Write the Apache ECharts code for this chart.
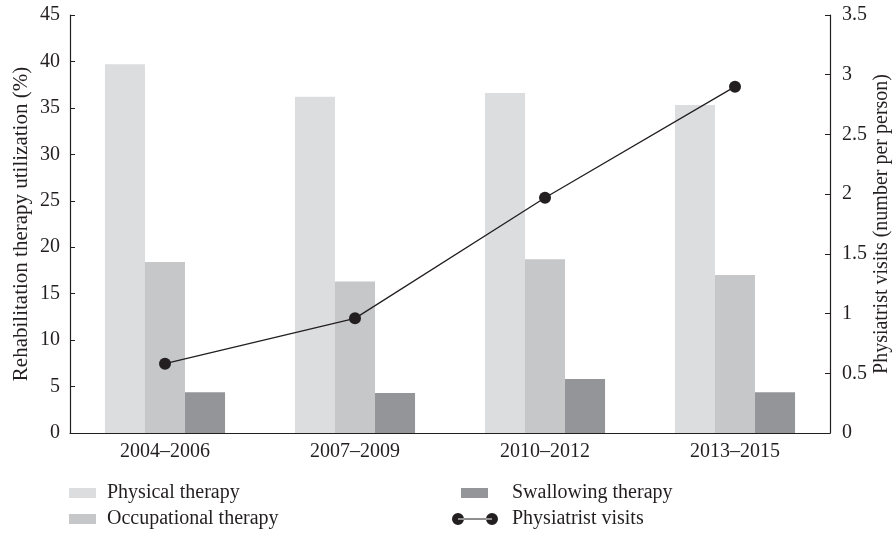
<!DOCTYPE html>
<html>
<head>
<meta charset="utf-8">
<script src="https://cdn.jsdelivr.net/npm/echarts@6/dist/echarts.min.js"></script>
<style>
  html, body { margin: 0; padding: 0; background: #fff; }
  #main { width: 893px; height: 535px; }
</style>
</head>
<body>
<div id="main"></div>
<script>
// data
var periods = ['2004\u20132006', '2007\u20132009', '2010\u20132012', '2013\u20132015'];
var physical = [39.7, 36.2, 36.6, 35.3];
var occupational = [18.4, 16.3, 18.7, 17.0];
var swallowing = [4.4, 4.3, 5.8, 4.4];
var visits = [0.58, 0.96, 1.97, 2.90];

var ink = '#231f20';
var font = 'Liberation Serif';

var myChart = echarts.init(document.getElementById('main'));

// legend icon: line with a dot at each end
var visitIcon = 'path://M0,6a6,6 0 1,0 12,0a6,6 0 1,0 -12,0Z M34,6a6,6 0 1,0 12,0a6,6 0 1,0 -12,0Z M6,5.4H40V6.6H6Z';

function legendText(pad) {
    return { color: ink, fontFamily: font, fontSize: 20, padding: [0, 0, 0, pad] };
}

var option = {
    animation: false,
    textStyle: { fontFamily: font },
    grid: { left: 70, right: 63, top: 15, bottom: 102, outerBoundsMode: 'none', containLabel: false },
    legend: [
        {
            left: 69, top: 483, orient: 'vertical', itemGap: 6, padding: 0,
            height: 52,
            itemWidth: 27, itemHeight: 10, icon: 'rect',
            textStyle: legendText(6),
            data: ['Physical therapy', 'Occupational therapy']
        },
        {
            left: 461, top: 483, orient: 'vertical', padding: 0,
            itemWidth: 27, itemHeight: 10, icon: 'rect',
            textStyle: legendText(19),
            data: ['Swallowing therapy']
        },
        {
            left: 452, top: 509, orient: 'vertical', padding: 0,
            itemWidth: 46, itemHeight: 12,
            textStyle: legendText(9),
            data: [{ name: 'Physiatrist visits', icon: visitIcon }]
        }
    ],
    xAxis: {
        type: 'category',
        data: periods,
        axisLine: { lineStyle: { color: ink, width: 1.2 } },
        axisTick: { show: false },
        axisLabel: { color: ink, fontSize: 20, margin: 9 }
    },
    yAxis: [
        {
            type: 'value', min: 0, max: 45, interval: 5,
            name: 'Rehabilitation therapy utilization (%)',
            nameLocation: 'middle', nameGap: 38, nameMoveOverlap: false,
            nameTextStyle: { color: ink, fontSize: 21 },
            axisLine: { show: true, lineStyle: { color: ink, width: 1.2 } },
            axisTick: { show: true, inside: true, length: 5, lineStyle: { color: ink } },
            axisLabel: { color: ink, fontSize: 20, margin: 10 },
            splitLine: { show: false }
        },
        {
            type: 'value', min: 0, max: 3.5, interval: 0.5,
            name: 'Physiatrist visits (number per person)',
            nameLocation: 'middle', nameGap: 42, nameRotate: 90, nameMoveOverlap: false,
            nameTextStyle: { color: ink, fontSize: 20 },
            axisLine: { show: true, lineStyle: { color: ink, width: 1.2 } },
            axisTick: { show: true, inside: true, length: 5, lineStyle: { color: ink } },
            axisLabel: { color: ink, fontSize: 20, margin: 12 },
            splitLine: { show: false }
        }
    ],
    series: [
        {
            name: 'Physical therapy', type: 'bar', data: physical,
            barGap: 0, barCategoryGap: '36.8%',
            itemStyle: { color: '#dcdddf' }
        },
        {
            name: 'Occupational therapy', type: 'bar', data: occupational,
            itemStyle: { color: '#c6c7c9' }
        },
        {
            name: 'Swallowing therapy', type: 'bar', data: swallowing,
            itemStyle: { color: '#939598' }
        },
        {
            name: 'Physiatrist visits', type: 'line', yAxisIndex: 1, data: visits,
            symbol: 'circle', symbolSize: 12,
            lineStyle: { color: ink, width: 1.3 },
            itemStyle: { color: ink }
        }
    ]
};

myChart.setOption(option);
</script>
</body>
</html>
